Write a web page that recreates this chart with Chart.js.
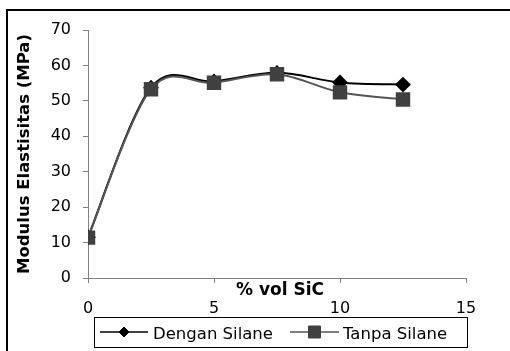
<!DOCTYPE html>
<html>
<head>
<meta charset="utf-8">
<script src="https://cdn.jsdelivr.net/npm/chart.js@4/dist/chart.umd.min.js"></script>
<style>
  html, body { margin: 0; padding: 0; background: #fff; }
  #wrap { width: 510px; height: 351px; position: relative; }
</style>
</head>
<body>
<div id="wrap"><canvas id="c" width="510" height="351"></canvas></div>
<script>
const xValues = [0, 2.5, 5, 7.5, 10, 12.5];
const denganSilane = [11.5, 53.7, 55.5, 57.9, 55.2, 54.6];
const tanpaSilane = [11.4, 53.3, 55.1, 57.5, 52.4, 50.4];
const seriesLabels = ['Dengan Silane', 'Tanpa Silane'];
const xTitle = '% vol SiC';
const yTitle = 'Modulus Elastisitas (MPa)';

const FONT = '"DejaVu Sans", sans-serif';

const toPoints = (xs, ys) => xs.map((x, i) => ({ x: x, y: ys[i] }));

// Excel-style smoothing: uniform Catmull-Rom control points on the library's own point elements
const smoothing = {
  id: 'smoothing',
  beforeDatasetDraw(chart, args) {
    const meta = args.meta;
    const line = meta.dataset;
    if (!line) return;
    line.updateControlPoints(chart.chartArea, 'x');
    const pts = meta.data;
    const n = pts.length;
    for (let i = 0; i < n; i++) {
      const p = pts[i];
      const prev = pts[Math.max(0, i - 1)];
      const next = pts[Math.min(n - 1, i + 1)];
      const dx = (next.x - prev.x) / 6;
      const dy = (next.y - prev.y) / 6;
      p.cp1x = p.x - dx; p.cp1y = p.y - dy;
      p.cp2x = p.x + dx; p.cp2y = p.y + dy;
    }
    line._path = undefined;
  }
};

const extras = {
  id: 'extras',
  beforeDraw(chart) {
    const ctx = chart.ctx;
    ctx.save();
    ctx.fillStyle = '#fff';
    ctx.fillRect(0, 0, chart.width, chart.height);
    ctx.strokeStyle = '#000';
    ctx.lineWidth = 2;
    ctx.strokeRect(7, 10, 700, 500);
    ctx.restore();
  },
  afterDraw(chart) {
    const ctx = chart.ctx;
    const ca = chart.chartArea;
    ctx.save();
    ctx.font = 'bold 17px ' + FONT;
    ctx.fillStyle = '#000';
    ctx.textAlign = 'center';
    ctx.textBaseline = 'alphabetic';
    ctx.fillText(xTitle, (ca.left + ca.right) / 2 + 3, ca.bottom + 17);

    ctx.strokeStyle = '#000';
    ctx.lineWidth = 1;
    ctx.strokeRect(94.5, 317.5, 373, 30);
    const items = [
      { x0: 100, x1: 148, tx: 153 },
      { x0: 290, x1: 339, tx: 343 }
    ];
    const ly = 332;
    chart.data.datasets.forEach((ds, i) => {
      const it = items[i];
      ctx.strokeStyle = ds.borderColor;
      ctx.lineWidth = 1.5;
      ctx.beginPath();
      ctx.moveTo(it.x0, ly);
      ctx.lineTo(it.x1, ly);
      ctx.stroke();
      ctx.fillStyle = ds.pointBackgroundColor;
      ctx.strokeStyle = ds.pointBorderColor;
      ctx.lineWidth = 1;
      Chart.helpers.drawPoint(ctx, {
        pointStyle: ds.pointStyle,
        radius: ds.legendRadius,
        rotation: 0,
        borderWidth: 1
      }, (it.x0 + it.x1) / 2, ly);
      ctx.fillStyle = '#000';
      ctx.font = '16.5px ' + FONT;
      ctx.textAlign = 'left';
      ctx.textBaseline = 'alphabetic';
      ctx.fillText(ds.label, it.tx, 339);
    });
    ctx.restore();
  }
};

new Chart(document.getElementById('c'), {
  type: 'line',
  data: {
    datasets: [
      {
        label: seriesLabels[0],
        data: toPoints(xValues, denganSilane),
        borderColor: '#000000',
        backgroundColor: '#000000',
        pointBackgroundColor: '#000000',
        pointBorderColor: '#000000',
        pointStyle: 'rectRot',
        pointRadius: 6.5,
        legendRadius: 5,
        borderWidth: 2,
        tension: 0.4,
        order: 1
      },
      {
        label: seriesLabels[1],
        data: toPoints(xValues, tanpaSilane),
        borderColor: '#555555',
        backgroundColor: '#404040',
        pointBackgroundColor: '#404040',
        pointBorderColor: '#404040',
        pointStyle: 'rect',
        pointRadius: 8.8,
        legendRadius: 8.5,
        borderWidth: 2,
        tension: 0.4,
        order: 0
      }
    ]
  },
  options: {
    responsive: false,
    animation: false,
    devicePixelRatio: 1,
    layout: { padding: { left: 0, right: 44, top: 30, bottom: 0 } },
    plugins: {
      legend: { display: false },
      tooltip: { enabled: false }
    },
    elements: { point: { borderWidth: 1, hoverRadius: 0 } },
    scales: {
      x: {
        type: 'linear',
        min: 0,
        max: 15,
        ticks: {
          stepSize: 5,
          color: '#000',
          font: { family: FONT, size: 16 },
          padding: 16,
          maxRotation: 0
        },
        grid: { drawOnChartArea: false, drawTicks: true, tickLength: 5, color: '#808080' },
        border: { color: '#808080', width: 1 },
        afterFit(scale) { scale.height = 73; }
      },
      y: {
        type: 'linear',
        min: 0,
        max: 70,
        ticks: {
          stepSize: 10,
          color: '#000',
          font: { family: FONT, size: 16 },
          padding: 12
        },
        grid: { drawOnChartArea: false, drawTicks: true, tickLength: 5, color: '#808080' },
        border: { color: '#808080', width: 1 },
        title: {
          display: true,
          text: yTitle,
          color: '#000',
          font: { family: FONT, size: 16.5, weight: 'bold' },
          padding: { top: 15, bottom: 0 }
        },
        afterFit(scale) { scale.width = 88; }
      }
    }
  },
  plugins: [smoothing, extras]
});
</script>
</body>
</html>
